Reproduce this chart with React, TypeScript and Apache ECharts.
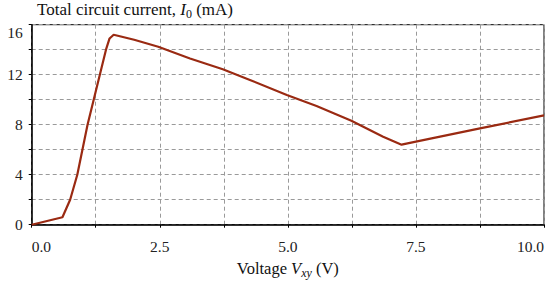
import React, { useEffect, useRef } from "react";
import * as echarts from "echarts";

const voltage = [0, 0.3, 0.6, 0.75, 0.89, 1.09, 1.33, 1.45, 1.52, 1.6, 2.0, 2.47, 3.09, 3.73, 4.26, 4.98, 5.56, 6.24, 6.86, 7.22, 7.5, 8.75, 10];
const current = [0, 0.3, 0.6, 2.0, 4.0, 8.0, 12.0, 14.0, 14.9, 15.2, 14.8, 14.24, 13.3, 12.43, 11.58, 10.38, 9.5, 8.32, 7.04, 6.4, 6.64, 7.7, 8.75];
const xTickLabels = ["0.0", "2.5", "5.0", "7.5", "10.0"];
const yTickLabels = ["0", "4", "8", "12", "16"];

const FONT = "'Liberation Serif', 'DejaVu Serif', serif";

export default function App() {
  const ref = useRef<HTMLDivElement>(null);
  useEffect(() => {
    if (!ref.current) return;
    const chart = echarts.init(ref.current, undefined, { renderer: "svg" });
    const data = voltage.map((v, i) => [v, current[i]]);
    chart.setOption({
      animation: false,
      textStyle: { fontFamily: FONT },
      grid: {
        left: 31.7,
        right: 6,
        top: 24.7,
        bottom: 56.3,
        containLabel: false,
        outerBoundsMode: "none",
        show: true,
        borderColor: "#000",
        borderWidth: 1,
      },
      graphic: [
        {
          type: "text",
          left: 37,
          top: 1,
          style: {
            rich: {
              n: { fontSize: 17, fontFamily: FONT, fill: "#111" },
              i: { fontSize: 17, fontFamily: FONT, fontStyle: "italic", fill: "#111" },
              s: { fontSize: 12, fontFamily: FONT, fill: "#111", padding: [9, 0, 0, 0] },
            },
            text: "{n|Total circuit current, }{i|I}{s|0}{n| (mA)}",
          },
        },
      ],
      xAxis: {
        type: "value",
        min: 0,
        max: 10,
        interval: 1.25,
        name: "{n|Voltage }{i|V}{s|xy}{n| (V)}",
        nameLocation: "middle",
        nameGap: 31,
        nameTextStyle: {
          rich: {
            n: { fontSize: 16.5, fontFamily: FONT, color: "#111" },
            i: { fontSize: 16.5, fontFamily: FONT, fontStyle: "italic", color: "#111" },
            s: { fontSize: 12, fontFamily: FONT, fontStyle: "italic", color: "#111", padding: [9, 0, 0, 0] },
          },
        },
        axisLine: { lineStyle: { color: "#000", width: 1.5 } },
        axisTick: { show: true, inside: false, length: 3, lineStyle: { color: "#000" } },
        axisLabel: {
          fontSize: 15.5,
          color: "#222",
          margin: 14,
          alignMinLabel: "left",
          alignMaxLabel: "right",
          formatter: (v: number) => {
            const idx = Math.round(v / 2.5);
            return Math.abs(v - idx * 2.5) < 1e-6 ? xTickLabels[idx] : "";
          },
        },
        splitLine: { show: true, lineStyle: { color: "#9a9a9a", type: [4, 3], width: 1 } },
      },
      yAxis: {
        type: "value",
        min: 0,
        max: 16,
        interval: 2,
        axisLine: { show: true, lineStyle: { color: "#000", width: 1.5 } },
        axisTick: { show: true, inside: false, length: 3, lineStyle: { color: "#000" } },
        axisLabel: {
          fontSize: 15.5,
          color: "#222",
          margin: 9,
          verticalAlignMaxLabel: "top",
          formatter: (v: number) => {
            const idx = Math.round(v / 4);
            return Math.abs(v - idx * 4) < 1e-6 ? yTickLabels[idx] : "";
          },
        },
        splitLine: { show: true, lineStyle: { color: "#9a9a9a", type: [4, 3], width: 1 } },
      },
      series: [
        {
          type: "line",
          data,
          showSymbol: false,
          symbol: "none",
          lineStyle: { color: "#9a2a12", width: 2.2 },
          z: 5,
        },
      ],
    });
    return () => chart.dispose();
  }, []);
  return <div ref={ref} style={{ width: 550, height: 281, position: "absolute", left: 0, top: 0 }} />;
}
